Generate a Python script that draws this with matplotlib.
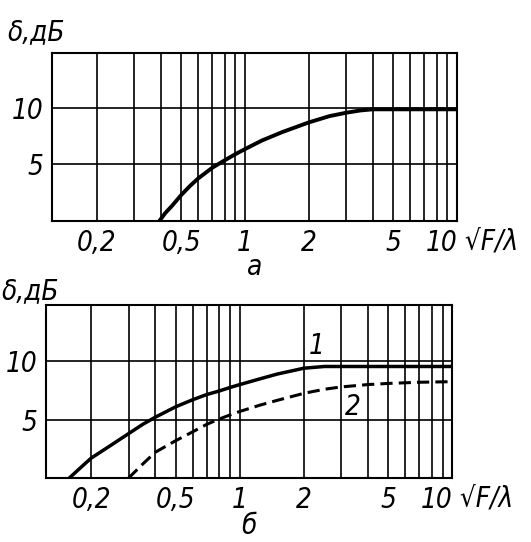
import matplotlib
matplotlib.use("Agg")
import matplotlib.pyplot as plt

# curve (a)
a_x = [0.394, 0.42, 0.45, 0.5, 0.55, 0.6, 0.7, 0.8, 0.9, 1.0, 1.2, 1.5, 2.0, 2.5, 3.0, 3.5, 4.0, 5.0, 7.0, 10.0]
a_y = [0.0, 0.7, 1.3, 2.3, 3.1, 3.75, 4.7, 5.35, 5.9, 6.35, 7.1, 7.85, 8.7, 9.25, 9.55, 9.75, 9.85, 9.85, 9.85, 9.85]

# curves (б): 1 solid, 2 dashed
b1_x = [0.158, 0.18, 0.2, 0.25, 0.3, 0.35, 0.4, 0.5, 0.6, 0.7, 0.8, 0.9, 1.0, 1.25, 1.5, 2.0, 2.5, 3.0, 5.0, 10.0]
b1_y = [0.0, 0.95, 1.7, 2.85, 3.8, 4.6, 5.2, 6.1, 6.7, 7.15, 7.45, 7.75, 8.0, 8.5, 8.9, 9.4, 9.55, 9.55, 9.55, 9.55]
b2_x = [0.3, 0.35, 0.4, 0.5, 0.6, 0.7, 0.8, 0.9, 1.0, 1.25, 1.5, 2.0, 2.5, 3.0, 4.0, 5.0, 7.0, 10.0]
b2_y = [0.0, 1.2, 2.2, 3.2, 3.95, 4.6, 5.05, 5.4, 5.7, 6.25, 6.65, 7.25, 7.6, 7.8, 8.0, 8.1, 8.2, 8.25]

x_ticks = [0.2, 0.5, 1, 2, 5, 10]
x_labels = ["0,2", "0,5", "1", "2", "5", "10"]
x_grid = [0.2, 0.3, 0.4, 0.5, 0.6, 0.7, 0.8, 0.9, 1, 2, 3, 4, 5, 6, 7, 8, 9, 10]
y_ticks = [5, 10]
y_labels = ["5", "10"]

font = dict(family="DejaVu Sans", stretch="condensed", style="italic", fontsize=20)

fig = plt.figure(figsize=(5.31, 5.42), dpi=100)
ax1 = fig.add_axes([0.098, 0.592, 0.763, 0.310])
ax2 = fig.add_axes([0.087, 0.118, 0.765, 0.319])


def setup(ax, ylab_y):
    ax.set_xscale("log")
    ax.set_xlim(0.123, 10)
    ax.set_ylim(0, 14.8)
    for g in x_grid:
        ax.axvline(g, color="black", lw=1.2, zorder=1)
    for g in y_ticks:
        ax.axhline(g, color="black", lw=1.2, zorder=1)
    ax.set_xticks(x_ticks)
    ax.set_xticklabels(x_labels, **font)
    ax.set_xticks([], minor=True)
    ax.set_yticks(y_ticks)
    ax.set_yticklabels(y_labels, **font)
    ax.tick_params(length=0, pad=6)
    ax.get_xticklabels()[-1].set_horizontalalignment("right")
    for s in ax.spines.values():
        s.set_linewidth(1.5)
    ax.text(1.0, -0.12, " √F/λ", transform=ax.transAxes, ha="left", va="center", **font)
    ax.text(-0.11, ylab_y, "δ,дБ", transform=ax.transAxes, ha="left", va="center", **font)


setup(ax1, 1.125)
ax1.plot(a_x, a_y, color="black", lw=2.8, zorder=3)
ax1.text(0.5, -0.27, "а", transform=ax1.transAxes, ha="center", va="center", **font)

setup(ax2, 1.08)
ax2.plot(b1_x, b1_y, color="black", lw=2.5, zorder=3)
ax2.plot(b2_x, b2_y, color="black", lw=2.2, ls=(0, (4, 2)), zorder=3)
ax2.text(2.3, 11.3, "1", ha="center", va="center", **font)
ax2.text(3.4, 6.1, "2", ha="center", va="center", **font)
ax2.text(0.5, -0.28, "б", transform=ax2.transAxes, ha="center", va="center", **font)

fig.savefig("out.png", dpi=100)
